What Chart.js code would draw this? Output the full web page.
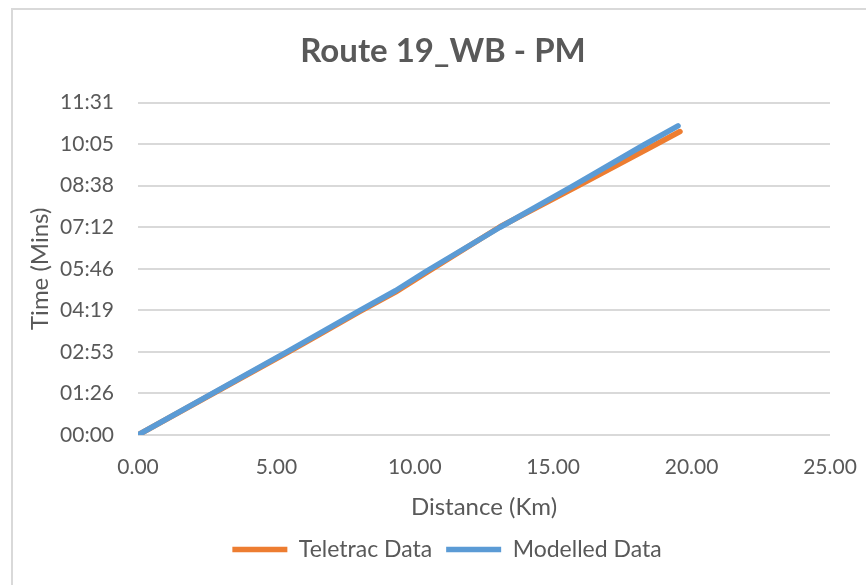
<!DOCTYPE html>
<html>
<head>
<meta charset="utf-8">
<script src="https://cdn.jsdelivr.net/npm/chart.js@4"></script>
<style>
  html, body { margin: 0; padding: 0; background: #fff; }
  #wrap { width: 866px; height: 585px; }
</style>
</head>
<body>
<div id="wrap"><canvas id="chart" width="866" height="585"></canvas></div>
<script>
// distance along route (km) and elapsed time (seconds)
const teletracKm = [0, 5.38, 6.5, 8.02, 9.3, 10.4, 13.08, 15.9, 18.57, 19.58];
const teletracSec = [0, 171, 207, 257, 297, 337, 433, 518, 600, 631];
const modelledKm = [0, 5.38, 8.02, 9.3, 10.4, 13.08, 15.72, 18.24, 19.51];
const modelledSec = [0, 173, 259, 300, 340, 432, 518, 602, 643];

// y ticks are Excel time steps of 0.001 day (86.4 s)
const yTickSecs = [0, 86.4, 172.8, 259.2, 345.6, 432, 518.4, 604.8, 691.2];
const xTicks = [0, 5, 10, 15, 20, 25];

const textColor = "#595959";
const gridColor = "#d9d9d9";

function toPoints(xs, ys) {
    return xs.map((x, i) => ({ x: x, y: ys[i] }));
}

function fmtTime(sec) {
    const s = Math.round(sec);
    const m = Math.floor(s / 60);
    const r = s % 60;
    return String(m).padStart(2, "0") + ":" + String(r).padStart(2, "0");
}

// light grey frame like the Excel chart border
const frame = {
    id: "frame",
    beforeDraw(chart) {
        const c = chart.ctx;
        c.save();
        c.fillStyle = "#fff";
        c.fillRect(0, 0, chart.width, chart.height);
        c.strokeStyle = gridColor;
        c.lineWidth = 2;
        c.beginPath();
        c.moveTo(12, chart.height);
        c.lineTo(12, 9);
        c.lineTo(chart.width, 9);
        c.stroke();
        c.restore();
    }
};

// Excel centres title and legend on the whole frame, nudge them right
const nudge = {
    id: "nudge",
    afterLayout(chart) {
        chart.titleBlock.left += 18;
        chart.titleBlock.right += 18;
        chart.legend.left += 22;
        chart.legend.right += 22;
    }
};

const ctx = document.getElementById("chart").getContext("2d");
new Chart(ctx, {
    type: "line",
    data: {
        datasets: [
            {
                label: "Teletrac Data",
                data: toPoints(teletracKm, teletracSec),
                borderColor: "#ED7D31",
                backgroundColor: "#ED7D31",
                borderWidth: 5.5,
                borderCapStyle: "round",
                borderJoinStyle: "round",
                pointRadius: 0,
                tension: 0,
                fill: false,
                order: 2,
            },
            {
                label: "Modelled Data",
                data: toPoints(modelledKm, modelledSec),
                borderColor: "#5B9BD5",
                backgroundColor: "#5B9BD5",
                borderWidth: 5.5,
                borderCapStyle: "round",
                borderJoinStyle: "round",
                pointRadius: 0,
                tension: 0,
                fill: false,
                order: 1,
            },
        ],
    },
    options: {
        responsive: false,
        animation: false,
        layout: { padding: { left: 20, right: 36, top: 0, bottom: 14 } },
        plugins: {
            title: {
                display: true,
                text: "Route 19_WB - PM",
                color: textColor,
                font: { family: "Lato", size: 33, weight: "bold" },
                padding: { top: 32, bottom: 31 },
            },
            legend: {
                position: "bottom",
                labels: {
                    color: textColor,
                    font: { family: "Lato", size: 23 },
                    usePointStyle: true,
                    pointStyle: "line",
                    pointStyleWidth: 55,
                    padding: 14,
                    sort: (a, b) => a.datasetIndex - b.datasetIndex,
                },
            },
            tooltip: { enabled: false },
        },
        scales: {
            x: {
                type: "linear",
                min: 0,
                max: 25,
                afterBuildTicks: (axis) => { axis.ticks = xTicks.map(v => ({ value: v })); },
                afterFit: (axis) => {
                    axis.height = 89;
                    axis.paddingRight = 0;
                    axis.paddingLeft = 0;
                },
                ticks: {
                    color: textColor,
                    font: { family: "Lato", size: 21 },
                    padding: 20,
                    callback: (v) => Number(v).toFixed(2),
                },
                grid: { display: false, drawTicks: false },
                border: { display: false },
                title: {
                    display: true,
                    text: "Distance (Km)",
                    color: textColor,
                    font: { family: "Lato", size: 24 },
                    padding: { top: 10, bottom: 2 },
                },
            },
            y: {
                type: "linear",
                min: 0,
                max: 691.2,
                afterBuildTicks: (axis) => { axis.ticks = yTickSecs.map(v => ({ value: v })); },
                afterFit: (axis) => { axis.width = 118; },
                ticks: {
                    color: textColor,
                    font: { family: "Lato", size: 21 },
                    padding: 24,
                    callback: (v) => fmtTime(v),
                },
                grid: { color: gridColor, lineWidth: 2, drawTicks: false },
                border: { display: false },
                title: {
                    display: true,
                    text: "Time (Mins)",
                    color: textColor,
                    font: { family: "Lato", size: 24 },
                    padding: { top: 6, bottom: 4 },
                },
            },
        },
    },
    plugins: [frame, nudge],
});
</script>
</body>
</html>
